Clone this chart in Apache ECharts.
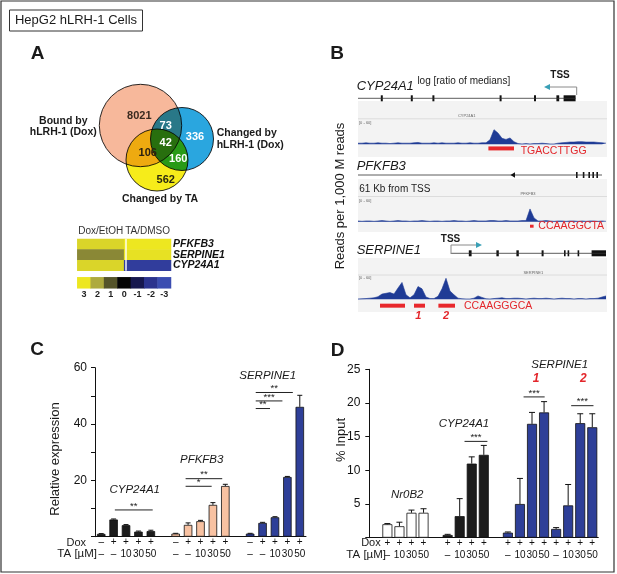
<!DOCTYPE html>
<html>
<head>
<meta charset="utf-8">
<script src="https://cdn.jsdelivr.net/npm/echarts@6/dist/echarts.min.js"></script>
<style>
  html, body { margin: 0; padding: 0; background: #fff; }
  #chart { width: 617px; height: 574px; }
</style>
</head>
<body>
<div id="chart"></div>
<script>
const FONT = '"Liberation Sans", Arial, Helvetica, sans-serif';

// ---- panel C : relative expression ----
const doxC = ['–', '+', '+', '+', '+'];
const taC = ['–', '–', '10', '30', '50'];
const cypC = [1.0, 6.1, 4.1, 1.8, 2.0];
const cypCErr = [0.1, 0.2, 0.2, 0.2, 0.3];
const pfkC = [1.1, 4.2, 5.5, 11.3, 18.0];
const pfkCErr = [0.1, 0.7, 0.3, 0.8, 0.6];
const serpC = [1.1, 4.9, 6.9, 21.2, 46.1];
const serpCErr = [0.1, 0.2, 0.2, 0.2, 4.1];

// ---- panel D : ChIP % input ----
const doxD = ['+', '+', '+', '+'];
const taD = ['–', '10', '30', '50'];
const nr0b2D = [2.0, 1.7, 3.7, 3.7];
const nr0b2DErr = [0.1, 0.6, 0.4, 0.6];
const cypD = [0.4, 3.2, 11.0, 12.3];
const cypDErr = [0.1, 2.6, 1.0, 1.4];
const serp1D = [0.75, 5.0, 16.9, 18.6];
const serp1DErr = [0.1, 3.8, 1.7, 1.6];
const serp2D = [1.3, 4.8, 17.0, 16.4];
const serp2DErr = [0.2, 3.1, 1.4, 2.0];

// ---- panel A : heatmap ----
const heatCols = ['Dox/EtOH', 'TA/DMSO'];
const heatRows = ['PFKFB3', 'SERPINE1', 'CYP24A1'];
const heatVals = [[2.7, 3.0], [1.6, 2.9], [2.7, -2.4]];
const scaleVals = [3, 2, 1, 0, -1, -2, -3];

// ---- panel B : tracks (bins along the locus) ----
const cypSig = [3,3,4,3,3,4,3,3,2,3,4,3,3,3,4,5,3,3,3,4,3,4,3,3,3,4,3,3,4,3,3,4,
  4,12,39,30,16,13,17,7,2,1,2,1,2,2,3,2,1,1,
  3,4,5,6,6,7,7,6,6,6,5,4,3];
const pfkSig = [2,1,2,2,1,2,3,2,1,2,3,2,2,1,2,2,3,2,1,2,2,1,2,2,3,2,2,1,2,3,2,2,2,3,3,2,2,3,2,2,2,3,
  3,34,10,
  2,2,3,2,1,2,2,1,2,2,1,2,1,2,2,1,2,1];
const serpSig = [1,1.5,2,3,4,7,14,16,18,14, 30,45,12,4,12,34,28,6,2,2,
  8,28,56,22,12,3,1.5,1,1,3, 9,5,1.5,1,2,3,4,2,2,3,
  3,2,1,2,3,2,2,3,2,1, 2,3,2,2,1,2,2,1,2,2, 3,6,9];
const cypGene = [0, 54.4];
const cypExons = [[5.7,6.2],[13.2,13.7],[18.6,19.1],[35.4,35.9],[44.0,44.5],[49.6,50.3],[51.4,54.4]];
const pfkGene = [0, 61];
const pfkExons = [[54.5,54.9],[56.2,56.6],[57.6,58.0],[58.6,59.0],[59.6,60.0]];
const serpGene = [23.25, 62];
const serpExons = [[27.7,28.4],[34.6,35.2],[39.6,40.2],[45.9,46.4],[51.5,51.9],[52.4,52.8],[54.9,55.3],[58.4,62]];
const cypMotif = [[32.6, 39]];
const pfkMotif = [[43.0, 43.9]];
const serpMotif = [[5.5, 11.75], [14, 16.75], [20.1, 24.25]];

// category layout with blank slots between groups
function layout(sizes, gaps) {
  let idx = 0;
  const starts = sizes.map((n, i) => { idx += gaps[i]; const s = idx; idx += n; return s; });
  return { starts: starts, total: idx };
}
const layC = layout([5, 5, 5], [0, 1, 1]);
const layD = layout([4, 4, 4, 4], [1, 1, 1, 0]);

function catLabels(lay, dox, ta) {
  const out = new Array(lay.total).fill('');
  lay.starts.forEach(s => dox.forEach((d, k) => { out[s + k] = d + '\n' + ta[k]; }));
  return out;
}
function barData(lay, g, vals) {
  const out = new Array(lay.total).fill('-');
  vals.forEach((v, k) => { out[lay.starts[g] + k] = v; });
  return out;
}
function errData(lay, groups) {
  const out = [];
  groups.forEach((gr, g) => gr[0].forEach((v, k) => out.push([lay.starts[g] + k, v, gr[1][k]])));
  return out;
}

function errRender(cap) {
  return function (params, api) {
    const x = api.value(0), v = api.value(1), e = api.value(2);
    const p0 = api.coord([x, v]), p1 = api.coord([x, v + e]);
    return { type: 'group', children: [
      { type: 'line', shape: { x1: p0[0], y1: p0[1], x2: p1[0], y2: p1[1] }, style: { stroke: '#111', lineWidth: 1 } },
      { type: 'line', shape: { x1: p1[0] - cap, y1: p1[1], x2: p1[0] + cap, y2: p1[1] }, style: { stroke: '#111', lineWidth: 1 } }
    ] };
  };
}

// significance brackets: [from, to, y, label] in category / value units
const sigC = [[1.1, 4.15, 9.5, '**'], [6.8, 9.75, 20.6, '**'], [6.8, 8.9, 17.9, '*'],
  [12.45, 15.44, 51.2, '**'], [12.45, 14.6, 48.2, '***'], [12.45, 13.6, 45.5, '**']];
const sigD = [[7.4, 9.3, 14.3, '***'], [12.3, 14.05, 20.9, '***'], [16.25, 18.1, 19.6, '***']];

function sigRender(list) {
  return function (params, api) {
    const s = list[params.dataIndex];
    const bw = api.size([1, 0])[0];
    const xAt = v => api.coord([Math.floor(v), s[2]])[0] + (v - Math.floor(v)) * bw;
    const y = api.coord([0, s[2]])[1];
    const x0 = xAt(s[0]), x1 = xAt(s[1]);
    return { type: 'group', children: [
      { type: 'line', shape: { x1: x0, y1: y, x2: x1, y2: y }, style: { stroke: '#222', lineWidth: 1 } },
      { type: 'text', x: (x0 + x1) / 2, y: y + 1, style: { text: s[3], fontSize: 9.5, fontFamily: FONT, fill: '#222', align: 'center', verticalAlign: 'bottom' } }
    ] };
  };
}

function exonRender(params, api) {
  const p0 = api.coord([api.value(0), 0]), p1 = api.coord([api.value(1), 0]);
  return { type: 'rect', shape: { x: p0[0], y: p0[1] - 3, width: Math.max(p1[0] - p0[0], 1.6), height: 6 }, style: { fill: '#111' } };
}
function motifRender(yv, h) {
  return function (params, api) {
    const p0 = api.coord([api.value(0), yv]), p1 = api.coord([api.value(1), yv]);
    return { type: 'rect', shape: { x: p0[0], y: p0[1] - h / 2, width: Math.max(p1[0] - p0[0], 3), height: h }, style: { fill: '#e8282c' } };
  };
}

const chart = echarts.init(document.getElementById('chart'), null, { renderer: 'canvas' });

const grids = [
  { left: 95, top: 367.7, width: 211, height: 169 },
  { left: 369.3, top: 369.3, width: 229, height: 168.4 },
  { left: 77.3, top: 239, width: 93.7, height: 31.7 },
  { left: 77.3, top: 277.3, width: 93.7, height: 11 },
  { left: 358, top: 93.3, width: 248, height: 10 },
  { left: 358, top: 170, width: 248, height: 10 },
  { left: 358, top: 248.3, width: 248, height: 10 },
  { left: 358, top: 121.8, width: 248, height: 30 },
  { left: 358, top: 199.2, width: 248, height: 30 },
  { left: 358, top: 276.8, width: 248, height: 30 }
].map(g => Object.assign({ outerBoundsMode: 'none', containLabel: false }, g));

const barX = (gi, lay, dox, ta) => ({
  type: 'category', gridIndex: gi, data: catLabels(lay, dox, ta),
  axisLine: { lineStyle: { color: '#111', width: 1 } }, axisTick: { show: false },
  axisLabel: { interval: 0, fontSize: 10, lineHeight: 11.5, margin: 0, color: '#111', fontFamily: FONT }
});
const barY = (gi, max, interval, fmt, margin) => ({
  type: 'value', gridIndex: gi, min: 0, max: max, interval: interval,
  axisLine: { show: true, lineStyle: { color: '#111', width: 1 } },
  axisTick: { show: true, length: 4, lineStyle: { color: '#111' } },
  splitLine: { show: false },
  axisLabel: { fontSize: 12, color: '#111', margin: margin, formatter: fmt, fontFamily: FONT }
});
const hidX = gi => ({ type: 'value', gridIndex: gi, min: 0, max: 62, show: false });
const hidY = (gi, min, max) => ({ type: 'value', gridIndex: gi, min: min, max: max, show: false });

const xAxis = [
  barX(0, layC, doxC, taC),
  barX(1, layD, doxD, taD),
  { type: 'category', gridIndex: 2, position: 'top', data: heatCols, axisLine: { show: false }, axisTick: { show: false },
    axisLabel: { interval: 0, fontSize: 10, color: '#333', margin: 3, fontFamily: FONT } },
  { type: 'category', gridIndex: 3, data: scaleVals.map(String), axisLine: { show: false }, axisTick: { show: false },
    axisLabel: { interval: 0, fontSize: 9, fontWeight: 'bold', color: '#222', margin: 2, fontFamily: FONT } },
  hidX(4), hidX(5), hidX(6), hidX(7), hidX(8), hidX(9)
];
const yAxis = [
  barY(0, 60, 10, v => (v > 0 && v % 20 === 0 ? v : ''), 8),
  barY(1, 25, 5, v => (v > 0 ? v : ''), 9),
  { type: 'category', gridIndex: 2, position: 'right', inverse: true, data: heatRows, axisLine: { show: false }, axisTick: { show: false },
    axisLabel: { interval: 0, fontSize: 10.5, fontWeight: 'bold', fontStyle: 'italic', color: '#111', margin: 2, fontFamily: FONT } },
  { type: 'category', gridIndex: 3, data: [''], show: false },
  hidY(4, -1, 1), hidY(5, -1, 1), hidY(6, -1, 1),
  hidY(7, -20, 60), hidY(8, -20, 60), hidY(9, -20, 60)
];

const series = [];
const barSeries = (xi, lay, g, vals, color, w) => ({
  type: 'bar', xAxisIndex: xi, yAxisIndex: xi, data: barData(lay, g, vals), barWidth: w, barGap: '-100%',
  itemStyle: { color: color, borderColor: '#111', borderWidth: 0.8 }, silent: true
});
series.push(barSeries(0, layC, 0, cypC, '#1c1c1c', 8.5));
series.push(barSeries(0, layC, 1, pfkC, '#f8c2a2', 8.5));
series.push(barSeries(0, layC, 2, serpC, '#2e3f98', 8.5));
series.push({ type: 'custom', xAxisIndex: 0, yAxisIndex: 0, z: 5, renderItem: errRender(2.5),
  data: errData(layC, [[cypC, cypCErr], [pfkC, pfkCErr], [serpC, serpCErr]]) });
series.push({ type: 'custom', xAxisIndex: 0, yAxisIndex: 0, z: 5, renderItem: sigRender(sigC),
  data: sigC.map(s => [Math.floor(s[0]), s[2]]) });

series.push(barSeries(1, layD, 0, nr0b2D, '#ffffff', 10));
series.push(barSeries(1, layD, 1, cypD, '#1c1c1c', 10));
series.push(barSeries(1, layD, 2, serp1D, '#2e3f98', 10));
series.push(barSeries(1, layD, 3, serp2D, '#2e3f98', 10));
series.push({ type: 'custom', xAxisIndex: 1, yAxisIndex: 1, z: 5, renderItem: errRender(3),
  data: errData(layD, [[nr0b2D, nr0b2DErr], [cypD, cypDErr], [serp1D, serp1DErr], [serp2D, serp2DErr]]) });
series.push({ type: 'custom', xAxisIndex: 1, yAxisIndex: 1, z: 5, renderItem: sigRender(sigD),
  data: sigD.map(s => [Math.floor(s[0]), s[2]]) });

const heatIdx = series.length;
const heatData = [];
heatVals.forEach((row, r) => row.forEach((v, c) => heatData.push([c, r, v])));
series.push({ type: 'heatmap', xAxisIndex: 2, yAxisIndex: 2, data: heatData, silent: true, itemStyle: { borderWidth: 0 } });
series.push({ type: 'heatmap', xAxisIndex: 3, yAxisIndex: 3, data: scaleVals.map((v, i) => [i, 0, v]), silent: true });

// gene models
[[4, cypGene, cypExons], [5, pfkGene, pfkExons], [6, serpGene, serpExons]].forEach(t => {
  series.push({ type: 'line', xAxisIndex: t[0], yAxisIndex: t[0], data: [[t[1][0], 0], [t[1][1], 0]], symbol: 'none',
    lineStyle: { color: '#333', width: 0.8 }, silent: true });
  series.push({ type: 'custom', xAxisIndex: t[0], yAxisIndex: t[0], renderItem: exonRender, data: t[2], encode: { x: [0, 1] } });
});
// read coverage tracks + motif locations
[[7, cypSig, cypMotif, -11, 4], [8, pfkSig, pfkMotif, -12, 3], [9, serpSig, serpMotif, -17, 4]].forEach(t => {
  series.push({ type: 'line', xAxisIndex: t[0], yAxisIndex: t[0], data: t[1].map((v, j) => [j, v]), symbol: 'none',
    lineStyle: { color: '#1f3b95', width: 0.6 }, areaStyle: { color: '#1f3b95', opacity: 1 }, silent: true });
  series.push({ type: 'custom', xAxisIndex: t[0], yAxisIndex: t[0], renderItem: motifRender(t[3], t[4]), data: t[2], encode: { x: [0, 1] } });
});

function T(text, x, y, o) {
  o = o || {};
  return { type: 'text', x: x, y: y, rotation: o.rot || 0, z: 50, silent: true,
    style: { text: text, fontSize: o.size || 12, fontFamily: FONT, fontWeight: o.bold ? 'bold' : 'normal',
      fontStyle: o.italic ? 'italic' : 'normal', fill: o.color || '#1a1a1a',
      align: o.align || 'center', verticalAlign: o.va || 'middle' } };
}
function R(x, y, w, h, style, z) {
  return { type: 'rect', z: z || 0, silent: true, shape: { x: x, y: y, width: w, height: h }, style: style };
}
function C(cx, cy, r, fill) {
  return { type: 'circle', z: 10, silent: true, shape: { cx: cx, cy: cy, r: r },
    style: { fill: fill, stroke: '#2a2a2a', lineWidth: 1, blend: 'multiply' } };
}
const RED = '#e3262b';
const gray = '#f3f3f3';

const elements = [
  R(1, 1, 613, 571, { fill: 'none', stroke: '#333', lineWidth: 1.2 }, 60),
  R(9.5, 10, 133, 21, { fill: '#fff', stroke: '#333', lineWidth: 1 }, 40),
  T('HepG2 hLRH-1 Cells', 76, 20.8, { size: 13 }),
  T('A', 37.5, 53.5, { size: 19, bold: true }),
  T('B', 337, 53.5, { size: 19, bold: true }),
  T('C', 37, 350, { size: 19, bold: true }),
  T('D', 337.5, 351, { size: 19, bold: true }),

  // Venn
  C(140.5, 125.5, 41.2, '#f7b89b'),
  C(182, 139, 31.5, '#2aa6df'),
  C(157, 160, 31, '#f6ec1a'),
  T('8021', 139.3, 116, { size: 11, bold: true, color: '#3a2a20' }),
  T('73', 165.7, 125.7, { size: 11, bold: true, color: '#fff' }),
  T('336', 195, 136.7, { size: 11, bold: true, color: '#fff' }),
  T('42', 165.7, 142.7, { size: 11, bold: true, color: '#fff' }),
  T('106', 147.7, 152.7, { size: 11, bold: true, color: '#2a2010' }),
  T('160', 178.3, 159.3, { size: 11, bold: true, color: '#fff' }),
  T('562', 165.7, 180, { size: 11, bold: true, color: '#2a2a10' }),
  T('Bound by', 63.3, 121, { size: 10.5, bold: true }),
  T('hLRH-1 (Dox)', 63.3, 132.5, { size: 10.5, bold: true }),
  T('Changed by', 216.7, 133.5, { size: 10.5, bold: true, align: 'left' }),
  T('hLRH-1 (Dox)', 216.7, 145.5, { size: 10.5, bold: true, align: 'left' }),
  T('Changed by TA', 160, 199, { size: 10.5, bold: true }),
  R(125.3, 239, 1.4, 31.7, { fill: '#fff' }, 50),

  // panel B decorations
  R(358, 101, 249, 56, { fill: gray }, 0),
  R(358, 179, 249, 53, { fill: gray }, 0),
  R(358, 258, 249, 54, { fill: gray }, 0),
  { type: 'line', z: 1, silent: true, shape: { x1: 358, y1: 118.8, x2: 607, y2: 118.8 }, style: { stroke: '#d6d6d6', lineWidth: 0.8 } },
  { type: 'line', z: 1, silent: true, shape: { x1: 358, y1: 196.5, x2: 607, y2: 196.5 }, style: { stroke: '#d6d6d6', lineWidth: 0.8 } },
  { type: 'line', z: 1, silent: true, shape: { x1: 358, y1: 275, x2: 607, y2: 275 }, style: { stroke: '#d6d6d6', lineWidth: 0.8 } },
  T('CYP24A1', 466.7, 116, { size: 4, color: '#666' }),
  T('PFKFB3', 528, 194, { size: 4, color: '#666' }),
  T('SERPINE1', 533.3, 272.5, { size: 4, color: '#666' }),
  T('[0 - 60]', 359, 123, { size: 4, color: '#666', align: 'left' }),
  T('[0 - 60]', 359, 200.5, { size: 4, color: '#666', align: 'left' }),
  T('[0 - 60]', 359, 278.3, { size: 4, color: '#666', align: 'left' }),
  T('Reads per 1,000 M reads', 340, 196, { size: 13, rot: Math.PI / 2 }),
  T('CYP24A1', 356.7, 86.7, { size: 13, italic: true, align: 'left' }),
  T('log [ratio of medians]', 463.8, 81.7, { size: 10, color: '#222' }),
  T('TSS', 560, 75, { size: 10, bold: true }),
  { type: 'polyline', z: 20, silent: true, shape: { points: [[576.7, 95], [576.7, 87], [549, 87]] }, style: { stroke: '#8a8a8a', lineWidth: 1, fill: null } },
  { type: 'polygon', z: 21, silent: true, shape: { points: [[544, 87], [550, 84], [550, 90]] }, style: { fill: '#3aa0b6' } },
  T('TGACCTTGG', 520.7, 151.5, { size: 10.5, color: RED, align: 'left' }),
  T('PFKFB3', 356.7, 166, { size: 13, italic: true, align: 'left' }),
  { type: 'polygon', z: 21, silent: true, shape: { points: [[510.5, 175], [515, 172.3], [515, 177.7]] }, style: { fill: '#111' } },
  T('61 Kb from TSS', 359.3, 189.3, { size: 10, color: '#222', align: 'left' }),
  T('CCAAGGCTA', 538.3, 226.5, { size: 10.5, color: RED, align: 'left' }),
  T('TSS', 450.5, 239, { size: 10, bold: true }),
  { type: 'polyline', z: 20, silent: true, shape: { points: [[451, 254], [451, 245], [477, 245]] }, style: { stroke: '#8a8a8a', lineWidth: 1, fill: null } },
  { type: 'polygon', z: 21, silent: true, shape: { points: [[482, 245], [476, 242], [476, 248]] }, style: { fill: '#3aa0b6' } },
  T('SERPINE1', 356.7, 250.7, { size: 13, italic: true, align: 'left' }),
  T('CCAAGGGCA', 464, 306.5, { size: 10.5, color: RED, align: 'left' }),
  T('1', 418.3, 316, { size: 11, bold: true, italic: true, color: RED }),
  T('2', 446, 316, { size: 11, bold: true, italic: true, color: RED }),

  // panel C texts
  T('Relative expression', 55, 459, { size: 13, rot: Math.PI / 2 }),
  T('CYP24A1', 134.7, 490, { size: 11.5, italic: true }),
  T('PFKFB3', 201.7, 459.3, { size: 11.5, italic: true }),
  T('SERPINE1', 267.7, 375.3, { size: 11.5, italic: true }),
  T('Dox', 86, 542.7, { size: 11, align: 'right' }),
  T('TA [µM]', 97, 554.3, { size: 11.5, align: 'right' }),

  // panel D texts
  T('% Input', 341.7, 440, { size: 13, rot: Math.PI / 2 }),
  T('Nr0B2', 407.2, 495, { size: 11.5, italic: true }),
  T('CYP24A1', 464, 423.3, { size: 11.5, italic: true }),
  T('SERPINE1', 559.7, 365, { size: 11.5, italic: true }),
  T('1', 536, 379, { size: 12, bold: true, italic: true, color: RED }),
  T('2', 583.3, 379, { size: 12, bold: true, italic: true, color: RED }),
  T('Dox', 380.7, 542.5, { size: 11, align: 'right' }),
  T('TA [µM]', 386, 555, { size: 11.5, align: 'right' })
];

chart.setOption({
  backgroundColor: '#fff',
  animation: false,
  textStyle: { fontFamily: FONT },
  grid: grids,
  xAxis: xAxis,
  yAxis: yAxis,
  visualMap: {
    type: 'continuous', show: false, min: -3, max: 3, seriesIndex: [heatIdx, heatIdx + 1],
    inRange: { color: ['#3b4db1', '#2b338e', '#16174e', '#050505', '#55542a', '#aeaa3e', '#ede720'] }
  },
  graphic: { elements: elements },
  series: series
});
</script>
</body>
</html>
